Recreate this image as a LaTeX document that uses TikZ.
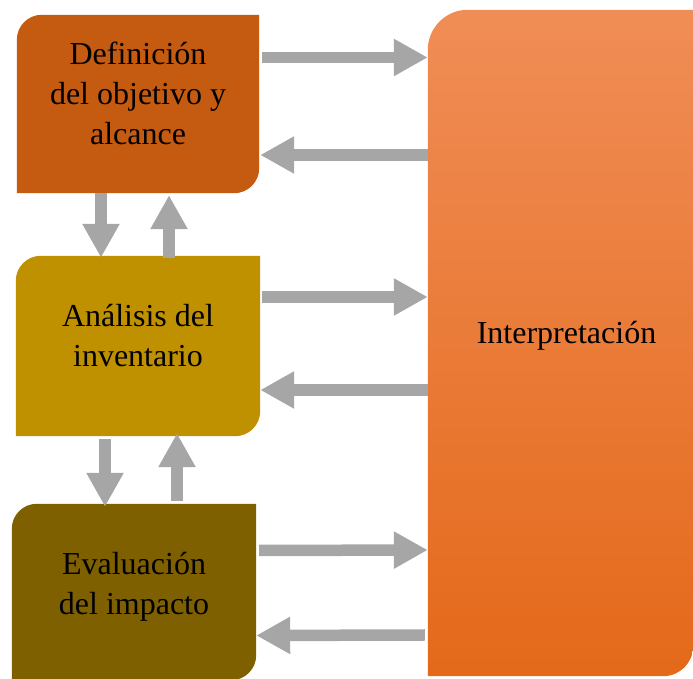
\documentclass[tikz,border=0pt]{standalone}
\usepackage{fontspec}
\setmainfont{Liberation Serif}
\usetikzlibrary{arrows.meta}

\definecolor{defcol}{HTML}{C55A11}
\definecolor{anacol}{HTML}{BF9000}
\definecolor{evacol}{HTML}{7F6000}
\definecolor{intertop}{HTML}{F08D56}
\definecolor{intermid}{HTML}{F47D31}
\definecolor{interbot}{HTML}{E4691A}
\definecolor{arrowgray}{HTML}{A6A6A6}

\begin{document}
\begin{tikzpicture}[
	x=1pt, y=1pt,
	area/.style={
		rectangle,
		inner sep=0pt,
		minimum width=#1,
	},
	label/.style={
		align=center,
		font=\fontsize{32}{40}\selectfont,
	},
	BigArrow/.style={% Thick gray block arrows
		draw=arrowgray,
		line width=11.5pt,
		-{Triangle[width=35pt,length=34pt]},
	},
]
\useasboundingbox (0,0) rectangle (693,679);

\node[area=242pt, minimum height=178pt] (def) at (138,575) {};
\node[area=244pt, minimum height=180pt] (ana) at (138,333) {};
\node[area=244pt, minimum height=176pt] (eva) at (134,87) {};
\node[area=265pt, minimum height=666pt] (inter) at (560.5,336) {};

% boxes with two rounded corners
\fill[defcol] (def.south west) -- ([yshift=-25pt]def.north west)
	arc[start angle=180, end angle=90, radius=25pt] -- (def.north east)
	-- ([yshift=25pt]def.south east) arc[start angle=0, end angle=-90, radius=25pt] -- cycle;
\fill[anacol] (ana.south west) -- ([yshift=-25pt]ana.north west)
	arc[start angle=180, end angle=90, radius=25pt] -- (ana.north east)
	-- ([yshift=25pt]ana.south east) arc[start angle=0, end angle=-90, radius=25pt] -- cycle;
\fill[evacol] (eva.south west) -- ([yshift=-25pt]eva.north west)
	arc[start angle=180, end angle=90, radius=25pt] -- (eva.north east)
	-- ([yshift=25pt]eva.south east) arc[start angle=0, end angle=-90, radius=25pt] -- cycle;
\shade[top color=intertop, middle color=intermid, bottom color=interbot]
	(inter.south west) -- ([yshift=-40pt]inter.north west)
	arc[start angle=180, end angle=90, radius=40pt] -- (inter.north east)
	-- ([yshift=30pt]inter.south east) arc[start angle=0, end angle=-90, radius=30pt] -- cycle;

\node[label] (deftext) at ([yshift=11pt]def.center) {Definición\\del objetivo y\\alcance};
\node[label] (anatext) at ([yshift=10pt]ana.center) {Análisis del\\inventario};
\node[label] (evatext) at ([yshift=5pt]eva.center) {Evaluación\\del impacto};
\node[label] (intertext) at ([xshift=6pt,yshift=7pt]inter.center) {Interpretación};

\draw[BigArrow] ([xshift=3pt,yshift=46.5pt]def.east) -- ([yshift=285.5pt]inter.west);
\draw[BigArrow] ([yshift=188pt]inter.west) -- ([xshift=1pt,yshift=-51pt]def.east);
\draw[BigArrow] ([xshift=2pt,yshift=49pt]ana.east) -- ([yshift=46pt]inter.west);
\draw[BigArrow] ([yshift=-47pt]inter.west) -- ([yshift=-44pt]ana.east);
\draw[BigArrow] ([xshift=3pt,yshift=41.5pt]eva.east) -- ([yshift=-207pt]inter.west);
\draw[BigArrow] ([xshift=-3pt,yshift=-292pt]inter.west) -- ([yshift=-43.5pt]eva.east);

\draw[BigArrow] ([xshift=-37pt]def.south) -- ([xshift=-37pt,yshift=-2pt]ana.north);
\draw[BigArrow] ([xshift=31pt,yshift=-2pt]ana.north) -- ([xshift=31pt,yshift=-2pt]def.south);
\draw[BigArrow] ([xshift=-33pt,yshift=-3pt]ana.south) -- ([xshift=-29pt,yshift=-3pt]eva.north);
\draw[BigArrow] ([xshift=43pt,yshift=3pt]eva.north) -- ([xshift=39pt,yshift=3pt]ana.south);

\end{tikzpicture}
\end{document}
